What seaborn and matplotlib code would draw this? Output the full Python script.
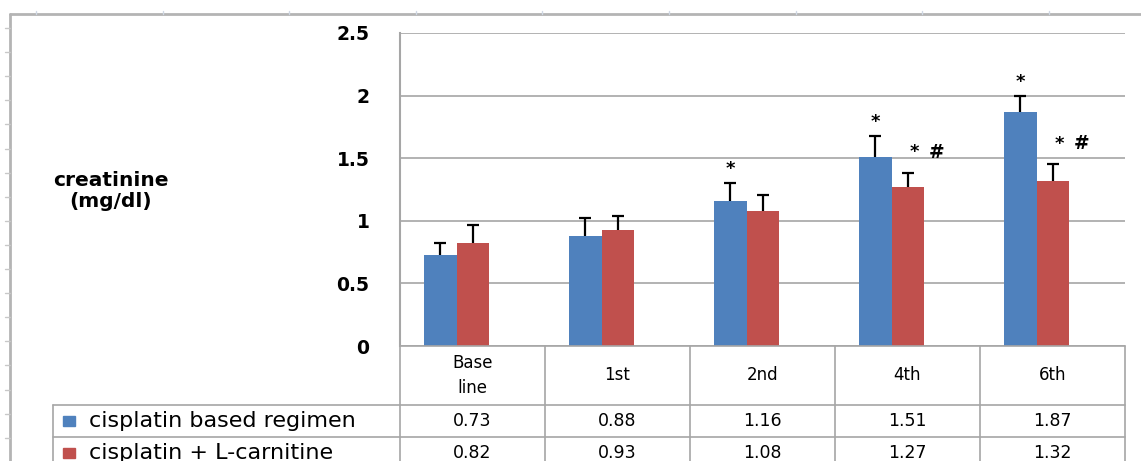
import matplotlib
matplotlib.use("Agg")
import matplotlib.pyplot as plt
import seaborn as sns
import pandas as pd
import numpy as np
from matplotlib.lines import Line2D
from matplotlib.patches import Rectangle

# ---------------- data ----------------
categories = ["Base\nline", "1st", "2nd", "4th", "6th"]
series_names = ["cisplatin based regimen", "cisplatin + L-carnitine"]
regimen = [0.73, 0.88, 1.16, 1.51, 1.87]
carnitine = [0.82, 0.93, 1.08, 1.27, 1.32]
regimen_err = [0.09, 0.14, 0.14, 0.17, 0.13]
carnitine_err = [0.15, 0.11, 0.13, 0.11, 0.13]
regimen_marks = ["", "", "*", "*", "*"]
carnitine_marks = ["", "", "", "* #", "* #"]
table_labels = ["0.73", "0.88", "1.16", "1.51", "1.87"], ["0.82", "0.93", "1.08", "1.27", "1.32"]
yticks = [0, 0.5, 1, 1.5, 2, 2.5]
ytick_labels = ["0", "0.5", "1", "1.5", "2", "2.5"]
ylabel = "creatinine\n(mg/dl)"

colors = ["#4F81BD", "#C0504D"]
grid_col = "#A6A6A6"

df = pd.DataFrame({
    "cat": categories * 2,
    "series": [series_names[0]] * len(categories) + [series_names[1]] * len(categories),
    "value": regimen + carnitine,
})

sns.set_style("white")
plt.rcParams["font.family"] = ["DejaVu Sans"]
plt.rcParams["text.color"] = "black"
plt.rcParams["ytick.color"] = "black"
plt.rcParams["ytick.labelcolor"] = "black"

W, H = 1141, 461
fig = plt.figure(figsize=(W / 100, H / 100), dpi=100)

def fx(px):
    return px / W

def fy(py):
    return 1 - py / H

ax_left, ax_right, ax_top, ax_bot = 400, 1125, 33, 346
ax = fig.add_axes([fx(ax_left), fy(ax_bot), fx(ax_right - ax_left), (ax_bot - ax_top) / H])

sns.barplot(data=df, x="cat", y="value", hue="series", palette=colors,
            width=0.45, gap=0, saturation=1, linewidth=0, legend=False, ax=ax)

ax.set_xlim(-0.39, len(categories) - 0.39)
ax.set_ylim(0, 2.5)
ax.set_yticks(yticks)
ax.set_yticklabels(ytick_labels, fontsize=13.5, fontweight="bold", color="black")
ax.tick_params(axis="y", length=0, pad=22)
ax.set_xticks([])
ax.set_xlabel("")
ax.set_ylabel("")
ax.yaxis.grid(True, color=grid_col, lw=1.2)
ax.set_axisbelow(True)
for s in ["top", "right", "bottom"]:
    ax.spines[s].set_visible(False)
ax.spines["left"].set_color(grid_col)
ax.spines["left"].set_linewidth(1.5)

errs = [regimen_err, carnitine_err]
marks = [regimen_marks, carnitine_marks]
mark_dx = [0, 4.5]      # points, horizontal offset of the first symbol
mark_dy = [10, 15]      # points above error-bar top
for k, cont in enumerate(ax.containers[:2]):
    xs = [p.get_x() + p.get_width() / 2 for p in cont.patches]
    hs = [p.get_height() for p in cont.patches]
    eb = ax.errorbar(xs, hs, yerr=[np.zeros(len(xs)), errs[k]], fmt="none",
                     ecolor="black", elinewidth=1.6, capsize=4.5, capthick=1.6, zorder=5)
    caps = eb.lines[1]
    if len(caps) > 1:
        caps[0].set_visible(False)   # only the upper cap, like the original
    for x, h, e, m in zip(xs, hs, errs[k], marks[k]):
        for j, tok in enumerate(m.split()):
            ax.annotate(tok, xy=(x, h + e), xytext=(mark_dx[k] + j * 16, mark_dy[k]),
                        textcoords="offset points", ha="center", va="center",
                        fontsize=13.5 if tok == "#" else 13, fontweight="bold", color="black")

# ---------------- data table ----------------
row_lines = [346, 405, 437]
bottom = H + 5
line_kw = dict(color=grid_col, lw=1.2, transform=fig.transFigure)

bounds_px = [ax.transData.transform((i - 0.39, 0))[0] for i in range(len(categories) + 1)]

for b in bounds_px:
    fig.add_artist(Line2D([fx(b), fx(b)], [fy(ax_bot), fy(bottom)], **line_kw))
for r in row_lines[1:]:
    fig.add_artist(Line2D([fx(53), fx(bounds_px[-1])], [fy(r), fy(r)], **line_kw))
fig.add_artist(Line2D([fx(ax_left), fx(bounds_px[-1])], [fy(ax_bot), fy(ax_bot)], **line_kw))
fig.add_artist(Line2D([fx(53), fx(53)], [fy(405), fy(bottom)], **line_kw))

for i, c in enumerate(categories):
    cx = (bounds_px[i] + bounds_px[i + 1]) / 2
    fig.text(fx(cx), fy(375.5), c, ha="center", va="center", fontsize=12, linespacing=1.45)
    fig.text(fx(cx), fy(421), table_labels[0][i], ha="center", va="center", fontsize=12.5)
    fig.text(fx(cx), fy(453), table_labels[1][i], ha="center", va="center", fontsize=12.5)

for k, (name, rc) in enumerate(zip(series_names, [421, 453])):
    fig.add_artist(Rectangle((fx(63), fy(rc + 5)), fx(12), 10 / H, color=colors[k],
                             transform=fig.transFigure))
    fig.text(fx(89), fy(rc), name, ha="left", va="center", fontsize=16)

fig.text(fx(111), fy(191), ylabel, ha="center", va="center", fontsize=14.5,
         fontweight="bold", linespacing=1.15)

# ---------------- sheet frame ----------------
frame_kw = dict(color="#B4B4B4", lw=2, transform=fig.transFigure)
fig.add_artist(Line2D([fx(10), 1], [fy(14), fy(14)], **frame_kw))
fig.add_artist(Line2D([fx(10), fx(10)], [fy(14), 0], **frame_kw))
for yy in np.arange(28, H, 24.1):
    fig.add_artist(Line2D([fx(5), fx(10)], [fy(yy), fy(yy)], color="#C8C8C8", lw=1,
                          transform=fig.transFigure))
for xx in np.arange(36, W, 126.6):
    fig.add_artist(Line2D([fx(xx), fx(xx)], [fy(11), fy(14)], color="#D0D8E4", lw=1,
                          transform=fig.transFigure))

fig.savefig("out.png", dpi=100)
